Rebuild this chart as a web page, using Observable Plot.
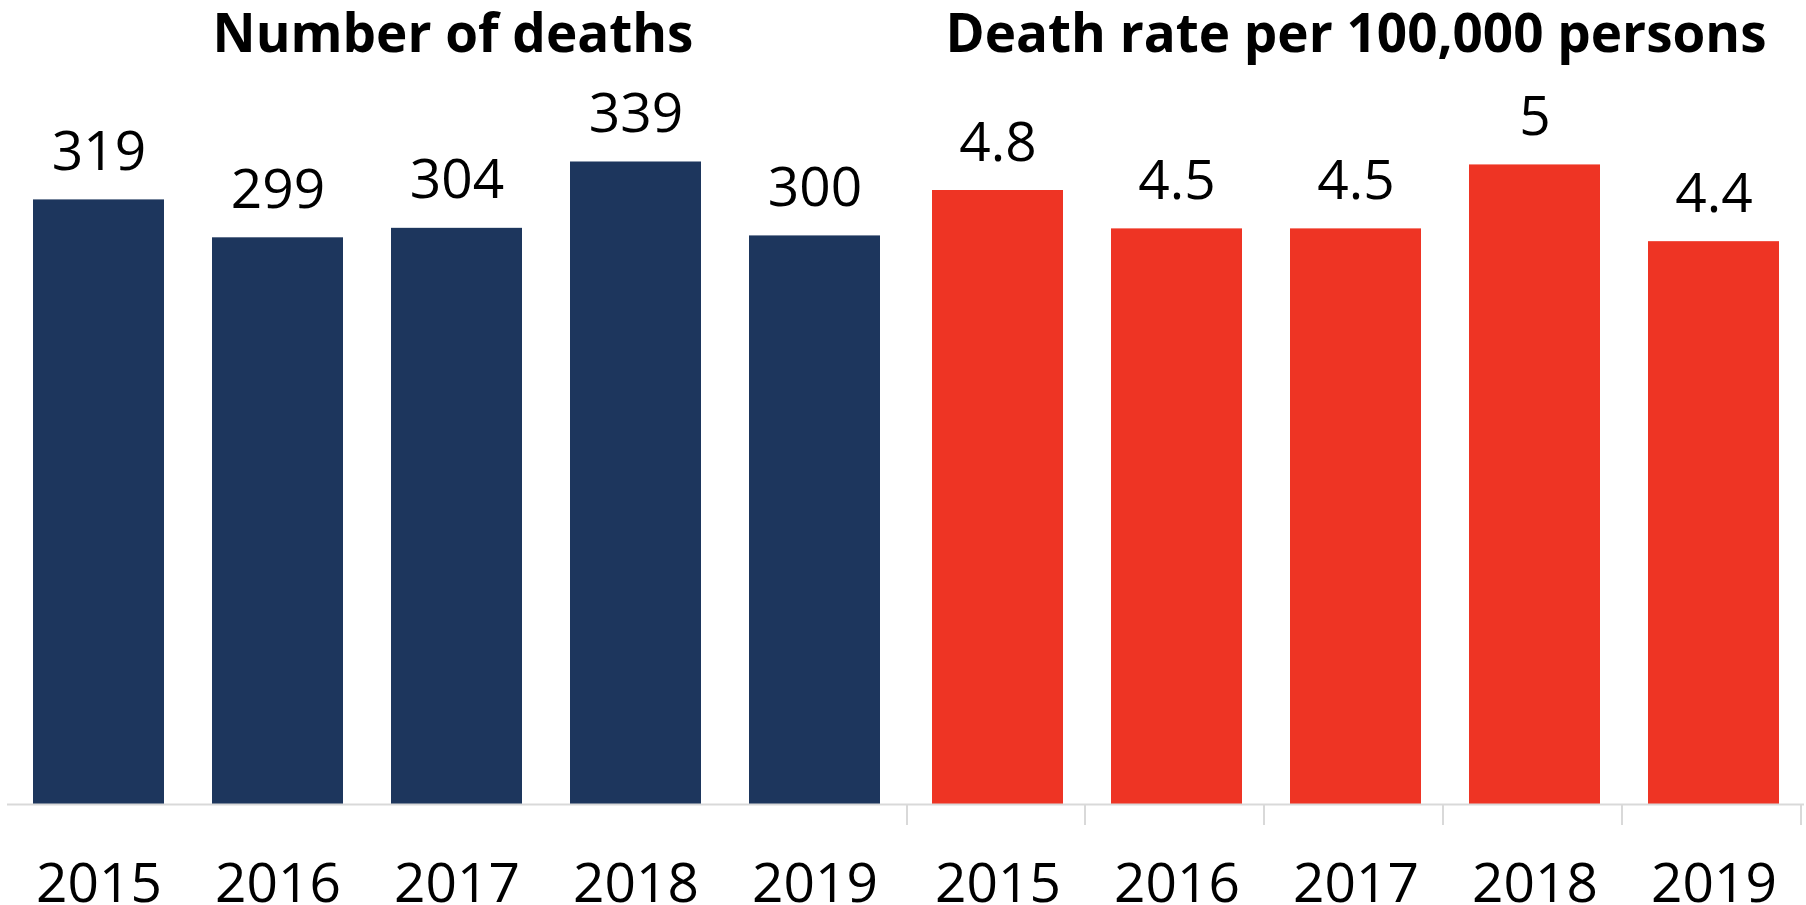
<!DOCTYPE html>
<html><head><meta charset="utf-8">
<script src="https://cdn.jsdelivr.net/npm/d3@7"></script>
<script src="https://cdn.jsdelivr.net/npm/@observablehq/plot@0.6"></script>
<style>
body{margin:0;background:#fff;font-family:"Open Sans",sans-serif;}
#wrap{display:flex;width:1806px;height:905px;overflow:hidden;}
.panel{flex:none;}
.panel .title{box-sizing:border-box;height:70px;padding-top:5px;font-weight:700;font-size:53px;line-height:53px;text-align:center;color:#000;white-space:nowrap;}
.panel svg{display:block;}
</style></head><body><div id="wrap"></div>
<script>
const years = ["2015", "2016", "2017", "2018", "2019"];
const deaths = [319, 299, 304, 339, 300];
const rates = [4.8, 4.5, 4.5, 5, 4.4];
const titles = ["Number of deaths", "Death rate per 100,000 persons"];
const colors = ["#1d365d", "#ee3424"];

function panel({title, values, color, yMax, width, ml, mr, boundaryTicks}) {
  const data = years.map((y, i) => ({year: y, value: values[i]}));
  const plot = Plot.plot({
    width, height: 835,
    marginTop: 10, marginBottom: 101, marginLeft: ml, marginRight: mr,
    style: {fontFamily: "'Open Sans', sans-serif", background: "transparent", overflow: "visible", color: "#000"},
    x: {domain: years, paddingInner: 0.27, paddingOuter: 0.135, label: null, axis: null},
    y: {domain: [0, yMax], axis: null},
    marks: [
      Plot.barY(data, {x: "year", y: "value", fill: color}),
      Plot.ruleY([0], {stroke: "#d9d9d9", strokeWidth: 2}),
      Plot.text(data, {x: "year", y: "value", text: d => String(d.value), lineAnchor: "bottom", dy: -30, fontSize: 55, fill: "#000"}),
      Plot.axisX({tickSize: 0, tickPadding: 58, fontSize: 55, fill: "#000", label: null})
    ]
  });
  if (boundaryTicks) {
    const xs = plot.scale("x");
    const ys = plot.scale("y");
    const r0 = xs.range[0];
    const y0 = ys.apply(0);
    const g = d3.select(plot).append("g").attr("stroke", "#d9d9d9").attr("stroke-width", 2);
    d3.range(years.length + 1).forEach(i => {
      const x = Math.max(1, r0 + i * xs.step);
      g.append("line").attr("x1", x).attr("x2", x).attr("y1", y0).attr("y2", y0 + 21);
    });
  }
  const div = document.createElement("div");
  div.className = "panel";
  div.style.width = width + "px";
  const t = document.createElement("div");
  t.className = "title";
  t.textContent = title;
  div.appendChild(t);
  div.appendChild(plot);
  return div;
}

const wrap = document.getElementById("wrap");
wrap.appendChild(panel({title: titles[0], values: deaths, color: colors[0], yMax: 382, width: 906, ml: 7, mr: 0, boundaryTicks: false}));
wrap.appendChild(panel({title: titles[1], values: rates, color: colors[1], yMax: 5.66, width: 900, ml: 0, mr: 2, boundaryTicks: true}));
</script></body></html>
